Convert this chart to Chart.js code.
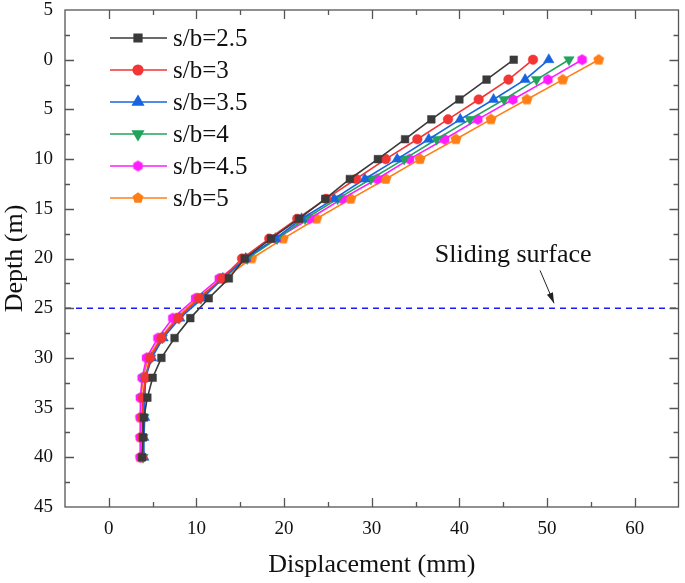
<!DOCTYPE html>
<html>
<head>
<meta charset="utf-8">
<script src="https://cdn.jsdelivr.net/npm/chart.js@4.4.0/dist/chart.umd.min.js"></script>
<style>
html, body { margin: 0; padding: 0; background: #fff; }
#wrap { width: 685px; height: 583px; }
</style>
</head>
<body>
<div id="wrap"><canvas id="myChart" width="685" height="583"></canvas></div>
<script>
// depth of each measuring point (m)
const depths = [0, 2, 4, 6, 8, 10, 12, 14, 16, 18, 20, 22, 24, 26, 28, 30, 32, 34, 36, 38, 40];

// displacement (mm) for each pile spacing
const sb25 = [46.2, 43.1, 40.0, 36.8, 33.8, 30.7, 27.5, 24.7, 21.7, 18.5, 15.5, 13.7, 11.4, 9.3, 7.5, 6.0, 5.0, 4.4, 4.0, 3.9, 3.8];
const sb3  = [48.4, 45.6, 42.2, 38.7, 35.2, 31.6, 28.2, 24.8, 21.5, 18.3, 15.2, 12.9, 10.3, 7.9, 6.0, 4.7, 4.2, 3.9, 3.8, 3.8, 3.8];
const sb35 = [50.2, 47.5, 43.9, 40.1, 36.5, 32.9, 29.2, 25.7, 22.0, 19.0, 15.6, 13.0, 10.7, 8.1, 6.2, 4.9, 4.2, 4.1, 4.1, 4.0, 4.0];
const sb4  = [52.5, 48.8, 45.1, 41.2, 37.4, 33.7, 29.9, 26.1, 22.4, 19.2, 15.8, 13.0, 10.5, 8.0, 6.1, 4.8, 4.1, 4.0, 4.0, 3.9, 3.9];
const sb45 = [54.0, 50.1, 46.1, 42.1, 38.3, 34.3, 30.6, 26.6, 22.9, 19.1, 15.7, 12.6, 9.9, 7.3, 5.6, 4.3, 3.8, 3.6, 3.6, 3.6, 3.6];
const sb5  = [55.9, 51.8, 47.7, 43.6, 39.6, 35.5, 31.6, 27.6, 23.7, 19.9, 16.3, 13.1, 10.1, 7.7, 5.9, 4.5, 3.9, 3.7, 3.6, 3.6, 3.6];

const seriesNames = ['s/b=2.5', 's/b=3', 's/b=3.5', 's/b=4', 's/b=4.5', 's/b=5'];

// axes
const xTicks = [-5, 0, 10, 20, 30, 40, 50, 60, 65];
const xMinor = [5, 15, 25, 35, 45, 55];
const yTicks = [-5, 0, 5, 10, 15, 20, 25, 30, 35, 40, 45];
const yMinor = [-2.5, 2.5, 7.5, 12.5, 17.5, 22.5, 27.5, 32.5, 37.5, 42.5];

const slidingDepth = 25;

const serif = "'Liberation Serif', 'Times New Roman', serif";

// pentagon / hexagon markers (Chart.js has none built in)
function polyMarker(sides, r, color) {
    const c = document.createElement('canvas');
    c.width = c.height = Math.ceil(r * 2 + 2);
    const g = c.getContext('2d');
    const m = c.width / 2;
    g.beginPath();
    for (let i = 0; i < sides; i++) {
        const a = -Math.PI / 2 + i * 2 * Math.PI / sides;
        const px = m + r * Math.cos(a), py = m + r * Math.sin(a);
        if (i === 0) g.moveTo(px, py); else g.lineTo(px, py);
    }
    g.closePath();
    g.fillStyle = color;
    g.fill();
    return c;
}

const colors = ['#3a3a3a', '#f23535', '#1664e0', '#22a35c', '#ff1cff', '#ff7f17'];
const styles = [
    {pointStyle: 'rect', radius: 5.4, rotation: 0},
    {pointStyle: 'circle', radius: 4.8, rotation: 0},
    {pointStyle: 'triangle', radius: 6, rotation: 0},
    {pointStyle: 'triangle', radius: 6, rotation: 180},
    {pointStyle: polyMarker(6, 5.4, colors[4]), radius: 5, rotation: 0},
    {pointStyle: polyMarker(5, 5.8, colors[5]), radius: 5, rotation: 0}
];
const values = [sb25, sb3, sb35, sb4, sb45, sb5];

const datasets = values.map((vals, i) => ({
    label: seriesNames[i],
    data: vals.map((v, k) => ({x: v, y: depths[k]})),
    showLine: true,
    borderColor: colors[i],
    backgroundColor: colors[i],
    borderWidth: 1.6,
    pointStyle: styles[i].pointStyle,
    pointRadius: styles[i].radius,
    pointRotation: styles[i].rotation,
    pointBackgroundColor: colors[i],
    pointBorderColor: colors[i],
    pointBorderWidth: 0.5
}));

// sliding surface dashed line
datasets.push({
    label: 'sliding',
    data: [{x: xTicks[0], y: slidingDepth}, {x: xTicks[xTicks.length - 1], y: slidingDepth}],
    showLine: true,
    borderColor: '#1a1aff',
    borderWidth: 1.6,
    borderDash: [6, 5],
    pointRadius: 0
});

// frame with inward ticks on all four sides
const framePlugin = {
    id: 'frame',
    afterDatasetsDraw(chart) {
        const {ctx, chartArea: a, scales: {x, y}} = chart;
        ctx.save();
        ctx.strokeStyle = '#555';
        ctx.lineWidth = 1.3;
        ctx.strokeRect(a.left, a.top, a.right - a.left, a.bottom - a.top);
        ctx.beginPath();
        const xt = (v, len) => {
            const p = Math.round(x.getPixelForValue(v)) + 0.5;
            ctx.moveTo(p, a.bottom); ctx.lineTo(p, a.bottom - len);
            ctx.moveTo(p, a.top); ctx.lineTo(p, a.top + len);
        };
        const yt = (v, len) => {
            const p = Math.round(y.getPixelForValue(v)) + 0.5;
            ctx.moveTo(a.left, p); ctx.lineTo(a.left + len, p);
            ctx.moveTo(a.right, p); ctx.lineTo(a.right - len, p);
        };
        xTicks.slice(1, -1).forEach(v => xt(v, 9));
        xMinor.forEach(v => xt(v, 5));
        yTicks.slice(1, -1).forEach(v => yt(v, 9));
        yMinor.forEach(v => yt(v, 5));
        ctx.stroke();
        ctx.restore();
    }
};

// legend box in the upper left and the sliding surface note
const notesPlugin = {
    id: 'notes',
    afterDraw(chart) {
        const {ctx, scales: {x, y}} = chart;
        ctx.save();
        ctx.font = '25px ' + serif;
        ctx.textBaseline = 'middle';
        for (let i = 0; i < seriesNames.length; i++) {
            const ly = 38 + i * 32;
            ctx.strokeStyle = colors[i];
            ctx.fillStyle = colors[i];
            ctx.lineWidth = 1.6;
            ctx.beginPath();
            ctx.moveTo(110, ly); ctx.lineTo(167, ly);
            ctx.stroke();
            Chart.helpers.drawPoint(ctx, {
                pointStyle: styles[i].pointStyle,
                radius: styles[i].radius,
                rotation: styles[i].rotation,
                borderWidth: 0.5
            }, 138, ly);
            ctx.fillStyle = '#111';
            ctx.fillText(seriesNames[i], 173, ly + 1);
        }

        // "Sliding surface" label with arrow
        ctx.font = '26px ' + serif;
        ctx.fillStyle = '#111';
        ctx.textBaseline = 'alphabetic';
        ctx.textAlign = 'left';
        ctx.fillText('Sliding surface', x.getPixelForValue(37.2), y.getPixelForValue(20.4));
        const x1 = x.getPixelForValue(49.2), y1 = y.getPixelForValue(21.2);
        const x2 = x.getPixelForValue(50.8), y2 = y.getPixelForValue(24.5);
        ctx.strokeStyle = '#222';
        ctx.lineWidth = 1;
        ctx.beginPath();
        ctx.moveTo(x1, y1); ctx.lineTo(x2, y2);
        ctx.stroke();
        const ang = Math.atan2(y2 - y1, x2 - x1);
        ctx.beginPath();
        ctx.moveTo(x2, y2);
        ctx.lineTo(x2 - 11 * Math.cos(ang - 0.3), y2 - 11 * Math.sin(ang - 0.3));
        ctx.lineTo(x2 - 11 * Math.cos(ang + 0.3), y2 - 11 * Math.sin(ang + 0.3));
        ctx.closePath();
        ctx.fillStyle = '#222';
        ctx.fill();
        ctx.restore();
    }
};

const ctx = document.getElementById('myChart').getContext('2d');

const myChart = new Chart(ctx, {
    type: 'scatter',
    data: {datasets: datasets},
    plugins: [framePlugin, notesPlugin],
    options: {
        responsive: false,
        animation: false,
        events: [],
        layout: {padding: {top: 10, right: 3, left: 0, bottom: 0}},
        plugins: {
            legend: {display: false},
            tooltip: {enabled: false}
        },
        scales: {
            x: {
                type: 'linear',
                min: xTicks[0],
                max: xTicks[xTicks.length - 1],
                afterBuildTicks: s => { s.ticks = xTicks.map(v => ({value: v})); },
                afterFit: s => { s.height = 76; s.paddingLeft = 0; s.paddingRight = 0; },
                grid: {display: false, drawTicks: false},
                border: {display: false},
                ticks: {
                    padding: 11,
                    color: '#111',
                    autoSkip: false,
                    maxRotation: 0,
                    font: {family: serif, size: 19},
                    callback: v => (v === xTicks[0] || v === xTicks[xTicks.length - 1]) ? '' : v
                },
                title: {
                    display: true,
                    text: 'Displacement (mm)',
                    color: '#111',
                    font: {family: serif, size: 26},
                    padding: {top: 0, bottom: 2}
                }
            },
            y: {
                type: 'linear',
                reverse: true,
                min: yTicks[0],
                max: yTicks[yTicks.length - 1],
                afterBuildTicks: s => { s.ticks = yTicks.map(v => ({value: v})); },
                afterFit: s => { s.width = 65; s.paddingTop = 0; s.paddingBottom = 0; },
                grid: {display: false, drawTicks: false},
                border: {display: false},
                ticks: {
                    padding: 12,
                    color: '#111',
                    autoSkip: false,
                    font: {family: serif, size: 19},
                    callback: v => Math.abs(v)
                },
                title: {
                    display: true,
                    text: 'Depth (m)',
                    color: '#111',
                    font: {family: serif, size: 26},
                    padding: {top: 0, bottom: 0}
                }
            }
        }
    }
});
</script>
</body>
</html>
